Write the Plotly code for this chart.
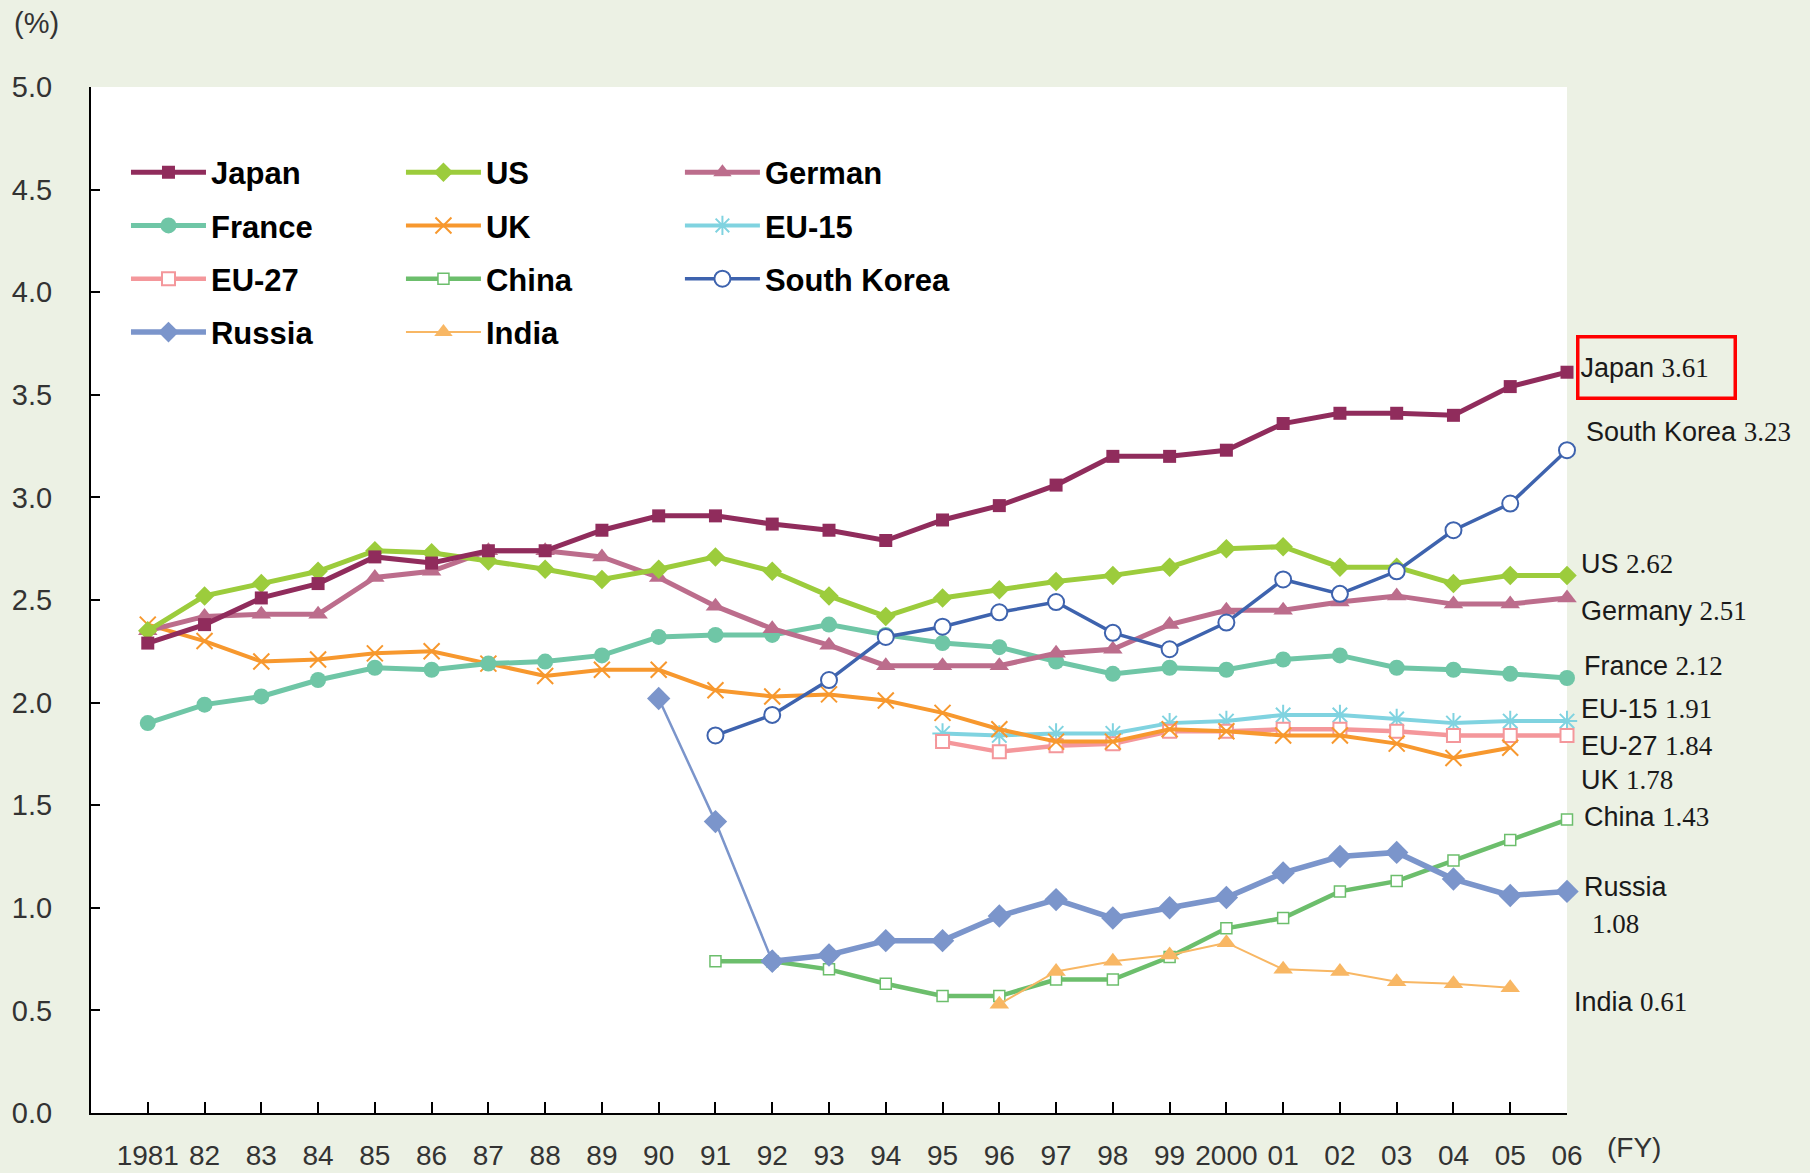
import plotly.graph_objects as go

years = list(range(1981, 2007))
year_labels = ["1981", "82", "83", "84", "85", "86", "87", "88", "89", "90", "91", "92", "93",
               "94", "95", "96", "97", "98", "99", "2000", "01", "02", "03", "04", "05", "06"]

japan = [2.29, 2.38, 2.51, 2.58, 2.71, 2.68, 2.74, 2.74, 2.84, 2.91, 2.91, 2.87, 2.84,
         2.79, 2.89, 2.96, 3.06, 3.20, 3.20, 3.23, 3.36, 3.41, 3.41, 3.40, 3.54, 3.61]
us = [2.35, 2.52, 2.58, 2.64, 2.74, 2.73, 2.69, 2.65, 2.60, 2.65, 2.71, 2.64, 2.52,
      2.42, 2.51, 2.55, 2.59, 2.62, 2.66, 2.75, 2.76, 2.66, 2.66, 2.58, 2.62, 2.62]
german = [2.35, 2.42, 2.43, 2.43, 2.61, 2.64, 2.74, 2.74, 2.71, 2.61, 2.47, 2.36, 2.28,
          2.18, 2.18, 2.18, 2.24, 2.26, 2.38, 2.45, 2.45, 2.49, 2.52, 2.48, 2.48, 2.51]
france = [1.90, 1.99, 2.03, 2.11, 2.17, 2.16, 2.19, 2.20, 2.23, 2.32, 2.33, 2.33, 2.38,
          2.33, 2.29, 2.27, 2.20, 2.14, 2.17, 2.16, 2.21, 2.23, 2.17, 2.16, 2.14, 2.12]
uk_years = list(range(1981, 2006))
uk = [2.38, 2.30, 2.20, 2.21, 2.24, 2.25, 2.19, 2.13, 2.16, 2.16, 2.06, 2.03, 2.04,
      2.01, 1.95, 1.87, 1.81, 1.81, 1.87, 1.86, 1.84, 1.84, 1.80, 1.73, 1.78]
eu_years = list(range(1995, 2007))
eu15 = [1.85, 1.84, 1.85, 1.85, 1.90, 1.91, 1.94, 1.94, 1.92, 1.90, 1.91, 1.91]
eu27 = [1.81, 1.76, 1.79, 1.80, 1.86, 1.86, 1.87, 1.87, 1.86, 1.84, 1.84, 1.84]
late_years = list(range(1991, 2007))
china = [0.74, 0.74, 0.70, 0.63, 0.57, 0.57, 0.65, 0.65, 0.76, 0.90, 0.95, 1.08, 1.13, 1.23, 1.33, 1.43]
korea = [1.84, 1.94, 2.11, 2.32, 2.37, 2.44, 2.49, 2.34, 2.26, 2.39, 2.60, 2.53, 2.64, 2.84, 2.97, 3.23]
russia_years = list(range(1990, 2007))
russia = [2.02, 1.42, 0.74, 0.77, 0.84, 0.84, 0.96, 1.04, 0.95, 1.00, 1.05, 1.17, 1.25, 1.27, 1.14, 1.06, 1.08]
india_years = list(range(1996, 2006))
india = [0.53, 0.69, 0.74, 0.77, 0.83, 0.70, 0.69, 0.64, 0.63, 0.61]

end_labels = [
    ("Japan", 3.61, 9, 5),
    ("South Korea", 3.23, 17, 18),
    ("US", 2.62, 12, 11),
    ("Germany", 2.51, 12, -13),
    ("France", 2.12, 15, 12),
    ("EU-15", 1.91, 12, 12),
    ("EU-27", 1.84, 12, -11),
    ("UK", 1.78, 12, -32),
    ("China", 1.43, 15, 3),
    ("India", 0.61, 5, -14),
]

fig = go.Figure()

def add(name, x, y, color, width, symbol, size, legend, rank, fill=None, mline=0, showlegend=True):
    marker = dict(symbol=symbol, size=size, color=fill if fill else color,
                  line=dict(color=color, width=mline))
    fig.add_trace(go.Scatter(
        x=x, y=y, name=name, mode="lines+markers",
        line=dict(color=color, width=width), marker=marker,
        legend=legend, legendgroup=name, legendrank=rank, showlegend=showlegend,
        cliponaxis=False, hoverinfo="x+y+name"))

add("EU-15", eu_years, eu15, "#80D3E0", 4, "asterisk-open", 17, "legend3", 2, mline=2)
add("EU-27", eu_years, eu27, "#F4979B", 4.5, "square", 13, "legend", 3, fill="white", mline=2)
add("UK", uk_years, uk, "#F7982E", 4, "x-thin-open", 16, "legend2", 2, mline=2)
add("France", years, france, "#6FC6A6", 5, "circle", 16, "legend", 2)
add("German", years, german, "#BC6D8C", 5, "triangle-up", 17, "legend3", 1)
add("US", years, us, "#9CCC3C", 5, "diamond", 15, "legend2", 1)
add("China", late_years, china, "#6CBE6C", 4.5, "square", 11, "legend2", 3, fill="white", mline=1.5)
add("India", india_years, india, "#F8B764", 2, "triangle-up", 17, "legend2", 4)
add("Russia", russia_years[:3], russia[:3], "#7B95CB", 2.5, "diamond", 18, "legend", 9, showlegend=False)
add("Russia", russia_years[2:], russia[2:], "#7B95CB", 5.5, "diamond", 18, "legend", 4)
add("South Korea", late_years, korea, "#3E63AE", 3.5, "circle", 16, "legend3", 3, fill="white", mline=2)
add("Japan", years, japan, "#902C5C", 5, "square", 13, "legend", 1)

label_font = dict(family="Liberation Sans, Arial, sans-serif", size=27, color="#1A1A1A")
for name, val, xs, ys in end_labels:
    txt = f'{name} <span style="font-family:Liberation Serif">{val:.2f}</span>'
    ann = dict(x=2006, y=val, xref="x", yref="y", text=txt, showarrow=False,
               xanchor="left", yanchor="middle", xshift=xs, yshift=ys, font=label_font)
    if name == "Japan":
        ann.update(bordercolor="#FF0000", borderwidth=3.5, borderpad=1,
                   width=152, height=56, align="left")
    fig.add_annotation(**ann)

fig.add_annotation(x=2006, y=russia[-1], xref="x", yref="y", text="Russia", showarrow=False,
                   xanchor="left", yanchor="middle", xshift=15, yshift=4, font=label_font)
fig.add_annotation(x=2006, y=russia[-1], xref="x", yref="y",
                   text='<span style="font-family:Liberation Serif">1.08</span>', showarrow=False,
                   xanchor="left", yanchor="middle", xshift=23, yshift=-33, font=label_font)

fig.add_annotation(x=0, y=1, xref="paper", yref="paper", text="(%)", showarrow=False,
                   xanchor="left", yanchor="middle", xshift=-79, yshift=64,
                   font=dict(family="Liberation Sans, Arial", size=29, color="#333333"))
fig.add_annotation(x=1, y=0, xref="paper", yref="paper", text="(FY)", showarrow=False,
                   xanchor="left", yanchor="middle", xshift=38, yshift=-34,
                   font=dict(family="Liberation Sans, Arial", size=28, color="#333333"))

leg_common = dict(bgcolor="rgba(0,0,0,0)", borderwidth=0, yanchor="top", xanchor="left",
                  orientation="v", tracegroupgap=10, itemwidth=75,
                  font=dict(family="Liberation Sans, Arial", size=31, color="#000000", weight="bold"))

fig.update_layout(
    width=1810, height=1173,
    paper_bgcolor="#ECF1E4", plot_bgcolor="#FFFFFF",
    margin=dict(l=91, r=243, t=87, b=60, autoexpand=False),
    showlegend=True,
    legend=dict(x=0.0237, y=0.943, **leg_common),
    legend2=dict(x=0.21, y=0.943, **leg_common),
    legend3=dict(x=0.399, y=0.943, **leg_common),
    xaxis=dict(range=[1980, 2006], tickvals=years, ticktext=year_labels, ticks="inside",
               ticklen=11, tickcolor="#000000", tickwidth=1.5, showline=True, linecolor="#000000",
               linewidth=2, showgrid=False, zeroline=False, ticklabelstandoff=16, automargin=False,
               tickfont=dict(family="Liberation Sans, Arial", size=28, color="#333333")),
    yaxis=dict(range=[0, 5], dtick=0.5, tickformat=".1f", ticks="inside", ticklen=9,
               tickcolor="#000000", tickwidth=1.5, showline=True, linecolor="#000000",
               linewidth=2, showgrid=False, zeroline=False, ticklabelstandoff=31, automargin=False,
               tickfont=dict(family="Liberation Sans, Arial", size=29, color="#333333")),
)

fig.write_html("out.html", config={"displayModeBar": False})

with open("out.html", "r", encoding="utf-8") as f:
    html = f.read()
html = html.replace("<head>", "<head><style>html,body{margin:0;padding:0;background:#ECF1E4;}</style>", 1)
with open("out.html", "w", encoding="utf-8") as f:
    f.write(html)
